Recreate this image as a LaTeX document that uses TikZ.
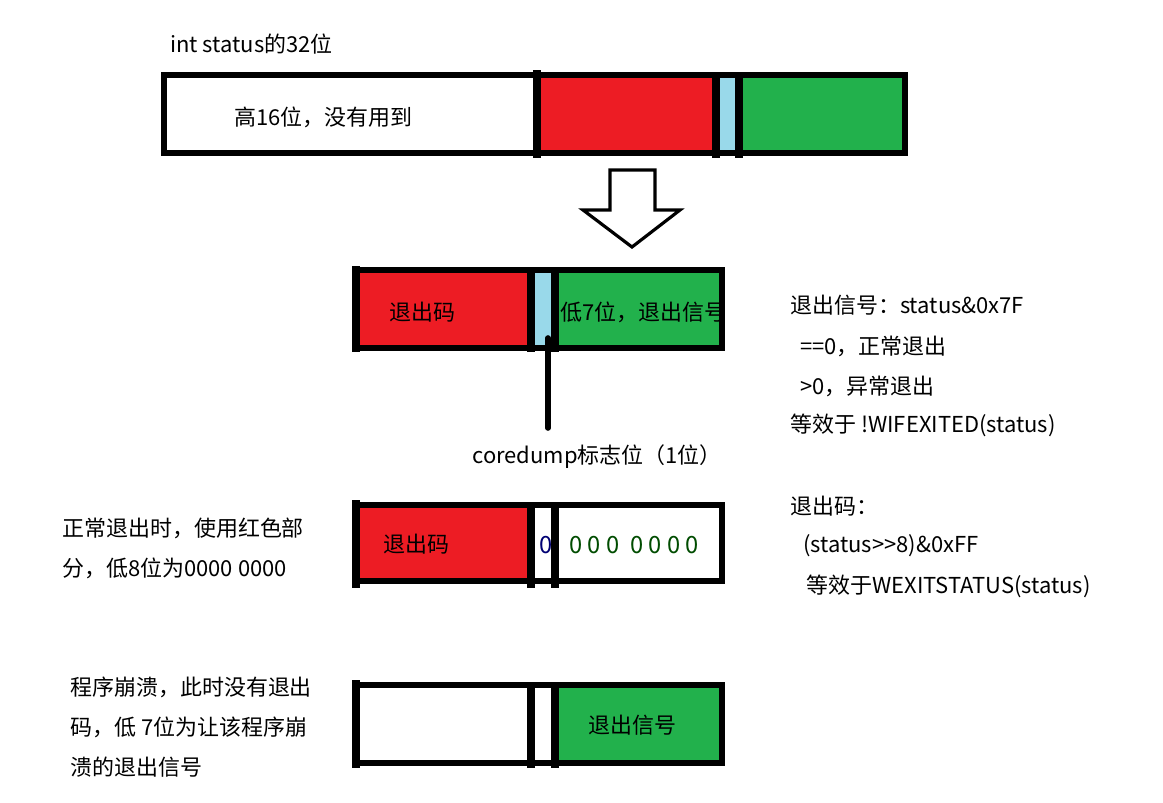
\documentclass[tikz,border=0pt]{standalone}
\usepackage{fontspec}
\setmainfont{Noto Sans CJK SC}
\usepackage{tikz}
\usetikzlibrary{positioning, calc}
\definecolor{bitred}{HTML}{ED1C24}
\definecolor{bitgreen}{HTML}{22B14C}
\definecolor{bitblue}{HTML}{99D9EA}

\tikzset{
  frame/.style={line width=3.1pt},
  bitsep/.style={line width=4pt},
  txt/.style={font=\fontsize{12.5}{15}\selectfont, inner sep=0pt, anchor=west},
}

\begin{document}
\begin{tikzpicture}[x=0.02cm, y=-0.02cm]
  \useasboundingbox (0,0) rectangle (1163,802);

  % 32位整体
  \node[txt] (title) at (170,44) {int status的32位};
  \fill[bitred] (537,75) rectangle (716,153);
  \fill[bitblue] (716,75) rectangle (739,153);
  \fill[bitgreen] (739,75) rectangle (905,153);
  \draw[frame] (164,75) rectangle (905,153);
  \draw[bitsep] (537,70) -- (537,158);
  \draw[bitsep] (716,75) -- (716,158);
  \draw[bitsep] (739,75) -- (739,158);
  \node[txt] (high) at (234,117) {高16位，没有用到};

  % 向下的箭头
  \draw[line width=1.8pt, fill=white, line join=miter]
    (610,170) -- (655,170) -- (655,210) -- (680,210) -- (632,247)
    -- (583,210) -- (610,210) -- cycle;

  % 低16位
  \fill[bitred] (356,270) rectangle (531,348);
  \fill[bitblue] (531,270) rectangle (555,348);
  \fill[bitgreen] (555,270) rectangle (722,348);
  \draw[frame] (356,270) rectangle (722,348);
  \draw[bitsep] (356,266) -- (356,352);
  \draw[bitsep] (531,270) -- (531,352);
  \draw[bitsep] (555,270) -- (555,352);
  \node[txt] (code) at (389,312) {退出码};
  \node[txt] (sig) at (560,312) {低7位，退出信号};
  \coordinate (core) at (548,338);
  \node[txt, anchor=north] (corelabel) at (597,444) {coredump标志位（1位）};
  \draw[line width=3.2pt, line cap=round] (core) -- (core |- 0,428);

  % 正常退出
  \fill[bitred] (356,505) rectangle (531,581);
  \draw[frame] (356,505) rectangle (722,581);
  \draw[bitsep] (356,500) -- (356,588);
  \draw[bitsep] (531,505) -- (531,588);
  \draw[bitsep] (555,505) -- (555,588);
  \node[txt] (code2) at (383,544) {退出码};
  \node[txt, text=blue!45!black, font=\fontsize{13.5}{15}\selectfont] (bit7) at (539,545) {0};
  \node[txt, text=green!30!black, font=\fontsize{13.5}{15}\selectfont] (low7) at (569,545) {0 0 0~~0 0 0 0};

  % 程序崩溃
  \fill[bitgreen] (555,685) rectangle (722,763);
  \draw[frame] (356,685) rectangle (722,763);
  \draw[bitsep] (356,680) -- (356,768);
  \draw[bitsep] (531,685) -- (531,768);
  \draw[bitsep] (555,685) -- (555,768);
  \node[txt] (sig2) at (588,725) {退出信号};

  % 右侧说明
  \node[txt] (r1) at (790,305) {退出信号：status\&0x7F};
  \node[txt] (r2) at (800,346) {==0，正常退出};
  \node[txt] (r3) at (800,386) {>0，异常退出};
  \node[txt] (r4) at (790,425) {等效于 !WIFEXITED(status)};
  \node[txt] (r5) at (790,506) {退出码：};
  \node[txt] (r6) at (803,546) {(status>{}>8)\&0xFF};
  \node[txt] (r7) at (806,586) {等效于WEXITSTATUS(status)};

  % 左侧说明
  \node[txt] (l1) at (62,528) {正常退出时，使用红色部};
  \node[txt] (l2) at (62,568) {分，低8位为0000 0000};
  \node[txt] (l3) at (70,687) {程序崩溃，此时没有退出};
  \node[txt] (l4) at (70,727) {码，低 7位为让该程序崩};
  \node[txt] (l5) at (70,767) {溃的退出信号};
\end{tikzpicture}
\end{document}
